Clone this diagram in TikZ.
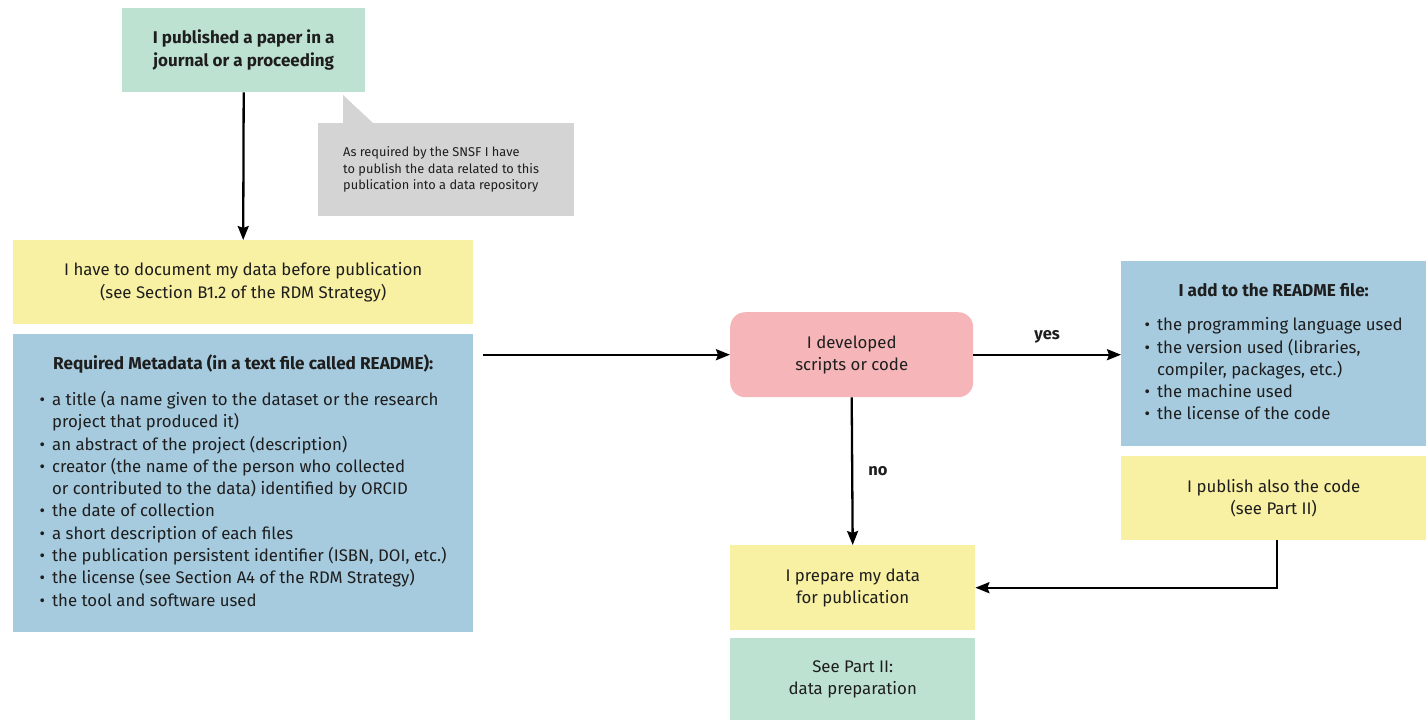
\documentclass[tikz,border=0pt]{standalone}
\usepackage{fontspec}
\setmainfont{Fira Sans}
\usetikzlibrary{arrows.meta}
\definecolor{mint}{HTML}{BEE2D2}
\definecolor{lemon}{HTML}{F8F0A2}
\definecolor{sky}{HTML}{A6CBDF}
\definecolor{rose}{HTML}{F6B6B9}
\definecolor{ash}{HTML}{D4D4D4}
\definecolor{ink}{HTML}{1E1E1E}
\tikzset{
  panel/.style={rectangle, inner sep=0pt, anchor=north west, align=center,
    text=ink, font=\fontsize{16.8}{22.3}\selectfont},
  head/.style={font=\bfseries\fontsize{17.2}{22.3}\selectfont},
  arr/.style={-{Stealth[length=14pt,width=11pt,inset=2pt]}, line width=2.3pt, draw=black},
  lbl/.style={font=\bfseries\fontsize{16.5}{18}\selectfont, text=ink, inner sep=0pt}
}
\newcommand{\bul}{\textbullet}
\newcommand{\hd}[1]{{\bfseries\fontsize{17.2}{22.3}\selectfont #1}}
\begin{document}
\begin{tikzpicture}[x=1pt,y=-1pt]
\useasboundingbox (0,0) rectangle (1426,720);

% starting point
\node[panel, fill=mint, minimum width=243pt, minimum height=84pt,
      font=\bfseries\fontsize{17}{23}\selectfont] (pub) at (122,8)
  {I published a paper in a\\journal or a proceeding};

% speech bubble with its tail
\fill[ash] (343,95) -- (343,123) -- (373,123) -- cycle;
\node[panel, fill=ash, minimum width=252pt, minimum height=93pt, align=left,
      font=\fontsize{12.8}{16.6}\selectfont] (note) at (318,123)
  {\hspace*{25pt}\begin{tabular}{@{}l@{}}As required by the SNSF I have\\
   to publish the data related to this\\publication into a data repository\end{tabular}\hspace*{35pt}};

% documentation step
\node[panel, fill=lemon, minimum width=460pt, minimum height=84pt] (doc) at (13,240)
  {I have to document my data before publication\\(see Section B1.2 of the RDM Strategy)};

% required metadata list
\node[panel, fill=sky, minimum width=460pt, minimum height=298pt] (meta) at (13,334)
  {\begin{tabular}{@{}l@{\hspace{7pt}}l@{}}
   \multicolumn{2}{c}{\hd{Required Metadata (in a text file called README):}}\\[14pt]
   \bul & a title (a name given to the dataset or the research\\
        & project that produced it)\\
   \bul & an abstract of the project (description)\\
   \bul & creator (the name of the person who collected\\
        & or contributed to the data) identified by ORCID\\
   \bul & the date of collection\\
   \bul & a short description of each files\\
   \bul & the publication persistent identifier (ISBN, DOI, etc.)\\
   \bul & the license (see Section A4 of the RDM Strategy)\\
   \bul & the tool and software used
   \end{tabular}};

% decision
\node[panel, fill=rose, rounded corners=15pt, minimum width=243pt, minimum height=85pt] (dev) at (730,312)
  {I developed\\scripts or code};

% code documentation
\node[panel, fill=sky, minimum width=305pt, minimum height=185pt] (readme) at (1121,261)
  {\begin{tabular}{@{}l@{\hspace{7pt}}l@{}}
   \multicolumn{2}{c}{\hd{I add to the README file:}}\\[12pt]
   \bul & the programming language used\\
   \bul & the version used (libraries,\\
        & compiler, packages, etc.)\\
   \bul & the machine used\\
   \bul & the license of the code
   \end{tabular}};

\node[panel, fill=lemon, minimum width=305pt, minimum height=84pt] (pubcode) at (1121,456)
  {I publish also the code\\(see Part II)};

% data preparation
\node[panel, fill=lemon, minimum width=245pt, minimum height=85pt] (prep) at (730,545)
  {I prepare my data\\for publication};
\node[panel, fill=mint, minimum width=245pt, minimum height=82pt] (part) at (730,638)
  {See Part II:\\data preparation};

% connectors
\draw[arr] (pub.south) -- (doc.north);
\coordinate (mstart) at ([xshift=10pt]meta.east |- dev.west);
\draw[arr] (mstart) -- (dev.west);
\draw[arr] (dev.east) -- (readme.west |- dev.east)
  node[lbl, midway, above=10pt] {yes};
\draw[arr] (dev.south) -- (prep.north)
  node[lbl, midway, right=15pt] {no};
\draw[arr] ([xshift=3pt]pubcode.south) |- (prep.east);
\end{tikzpicture}
\end{document}
